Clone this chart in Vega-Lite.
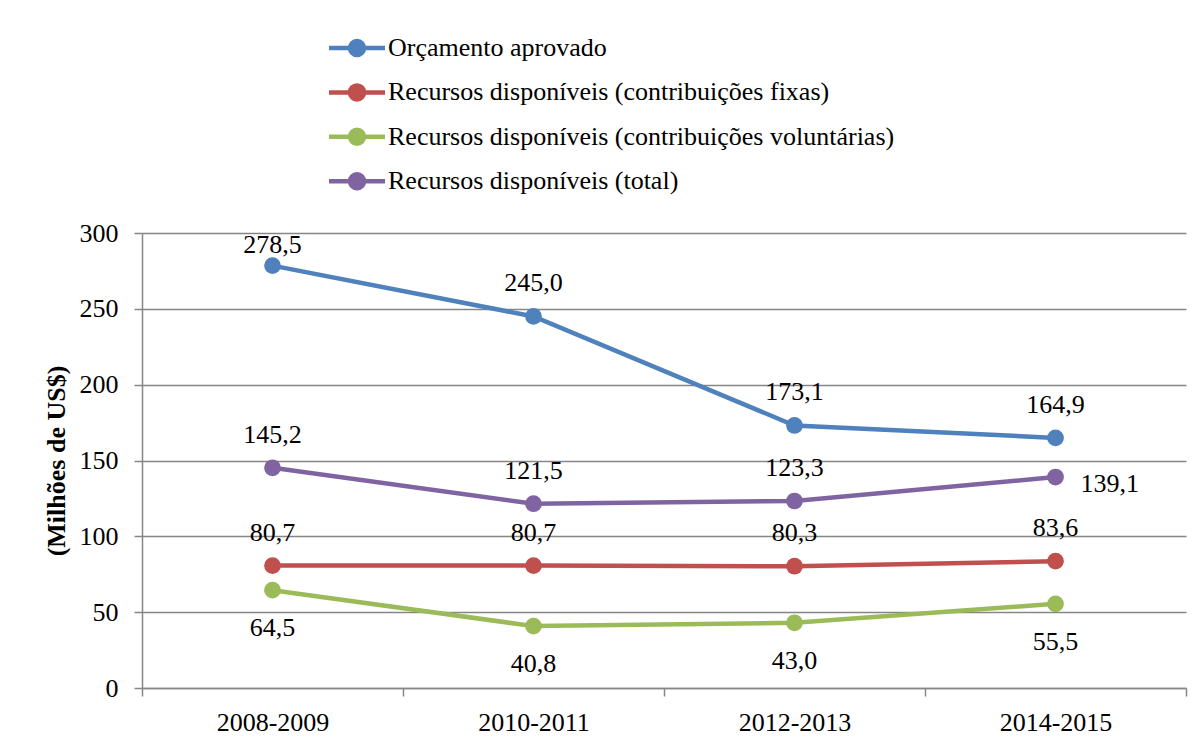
{
  "$schema": "https://vega.github.io/schema/vega-lite/v6.json",
  "autosize": {"type": "none"},
  "padding": {"left": 142, "top": 233, "right": 18, "bottom": 56},
  "width": 1044,
  "height": 455,
  "background": "white",
  "config": {
    "font": "Liberation Serif",
    "view": {"stroke": null},
    "locale": {"number": {"decimal": ",", "thousands": ".", "grouping": [3], "currency": ["US$", ""]}}
  },
  "data": {
    "values": [
      {"periodo": "2008-2009", "serie": "Orçamento aprovado", "valor": 278.5},
      {"periodo": "2010-2011", "serie": "Orçamento aprovado", "valor": 245.0},
      {"periodo": "2012-2013", "serie": "Orçamento aprovado", "valor": 173.1},
      {"periodo": "2014-2015", "serie": "Orçamento aprovado", "valor": 164.9},
      {"periodo": "2008-2009", "serie": "Recursos disponíveis (contribuições fixas)", "valor": 80.7},
      {"periodo": "2010-2011", "serie": "Recursos disponíveis (contribuições fixas)", "valor": 80.7},
      {"periodo": "2012-2013", "serie": "Recursos disponíveis (contribuições fixas)", "valor": 80.3},
      {"periodo": "2014-2015", "serie": "Recursos disponíveis (contribuições fixas)", "valor": 83.6},
      {"periodo": "2008-2009", "serie": "Recursos disponíveis (contribuições voluntárias)", "valor": 64.5},
      {"periodo": "2010-2011", "serie": "Recursos disponíveis (contribuições voluntárias)", "valor": 40.8},
      {"periodo": "2012-2013", "serie": "Recursos disponíveis (contribuições voluntárias)", "valor": 43.0},
      {"periodo": "2014-2015", "serie": "Recursos disponíveis (contribuições voluntárias)", "valor": 55.5},
      {"periodo": "2008-2009", "serie": "Recursos disponíveis (total)", "valor": 145.2},
      {"periodo": "2010-2011", "serie": "Recursos disponíveis (total)", "valor": 121.5},
      {"periodo": "2012-2013", "serie": "Recursos disponíveis (total)", "valor": 123.3},
      {"periodo": "2014-2015", "serie": "Recursos disponíveis (total)", "valor": 139.1}
    ]
  },
  "encoding": {
    "x": {
      "field": "periodo", "type": "nominal",
      "sort": ["2008-2009", "2010-2011", "2012-2013", "2014-2015"],
      "scale": {"type": "band", "paddingInner": 0, "paddingOuter": 0},
      "axis": {
        "title": null, "labelAngle": 0, "tickBand": "extent", "tickSize": 8, "labelPadding": 13,
        "domainColor": "#868686", "domainWidth": 1.5, "tickColor": "#868686", "tickWidth": 1.5,
        "labelFont": "Liberation Serif", "labelFontSize": 26, "labelColor": "black", "grid": false
      }
    },
    "y": {
      "field": "valor", "type": "quantitative",
      "scale": {"domain": [0, 300], "nice": false},
      "axis": {
        "values": [0, 50, 100, 150, 200, 250, 300],
        "title": "(Milhões de US$)", "titleFont": "Liberation Serif", "titleFontSize": 26, "titleFontWeight": "bold", "titleColor": "black", "titlePadding": 10,
        "grid": true, "gridColor": "#868686", "gridWidth": 1.5,
        "domainColor": "#868686", "domainWidth": 1.5, "tickColor": "#868686", "tickWidth": 1.5, "tickSize": 8,
        "labelPadding": 16, "labelFont": "Liberation Serif", "labelFontSize": 26, "labelColor": "black"
      }
    }
  },
  "layer": [
    {
      "mark": {"type": "line", "strokeWidth": 4.5},
      "encoding": {
        "color": {
          "field": "serie", "type": "nominal",
          "scale": {
            "domain": ["Orçamento aprovado", "Recursos disponíveis (contribuições fixas)", "Recursos disponíveis (contribuições voluntárias)", "Recursos disponíveis (total)"],
            "range": ["#4F81BD", "#C0504D", "#9BBB59", "#8064A2"]
          },
          "legend": {
            "orient": "none", "legendX": 202, "legendY": -198, "title": null, "padding": 0,
            "symbolType": "M-4,0L4,0M1,0A1,1,0,1,1,-1,0A1,1,0,1,1,1,0Z",
            "symbolSize": 196, "symbolStrokeWidth": 4.5,
            "labelFont": "Liberation Serif", "labelFontSize": 26, "labelColor": "black", "labelLimit": 0,
            "labelOffset": 18, "rowPadding": 12.4,
            "encode": {"symbols": {"update": {"fill": {"scale": "color", "field": "value"}, "stroke": {"scale": "color", "field": "value"}, "opacity": {"value": 1}}}}
          }
        }
      }
    },
    {
      "mark": {"type": "point", "filled": true, "size": 280, "opacity": 1},
      "encoding": {"color": {"field": "serie", "type": "nominal"}}
    },
    {
      "transform": [{"filter": "(datum.serie == 'Orçamento aprovado' && datum.periodo != '2008-2009') || datum.serie == 'Recursos disponíveis (contribuições fixas)' || (datum.serie == 'Recursos disponíveis (total)' && datum.periodo != '2014-2015')"}],
      "mark": {"type": "text", "baseline": "alphabetic", "dy": -25, "fontSize": 26, "font": "Liberation Serif", "color": "black"},
      "encoding": {"text": {"field": "valor", "type": "quantitative", "format": ".1f"}}
    },
    {
      "transform": [{"filter": "datum.serie == 'Orçamento aprovado' && datum.periodo == '2008-2009'"}],
      "mark": {"type": "text", "baseline": "alphabetic", "dy": -13, "fontSize": 26, "font": "Liberation Serif", "color": "black"},
      "encoding": {"text": {"field": "valor", "type": "quantitative", "format": ".1f"}}
    },
    {
      "transform": [{"filter": "datum.serie == 'Recursos disponíveis (contribuições voluntárias)'"}],
      "mark": {"type": "text", "baseline": "alphabetic", "dy": 46, "fontSize": 26, "font": "Liberation Serif", "color": "black"},
      "encoding": {"text": {"field": "valor", "type": "quantitative", "format": ".1f"}}
    },
    {
      "transform": [{"filter": "datum.serie == 'Recursos disponíveis (total)' && datum.periodo == '2014-2015'"}],
      "mark": {"type": "text", "baseline": "alphabetic", "align": "left", "dx": 25, "dy": 15, "fontSize": 26, "font": "Liberation Serif", "color": "black"},
      "encoding": {"text": {"field": "valor", "type": "quantitative", "format": ".1f"}}
    }
  ]
}
